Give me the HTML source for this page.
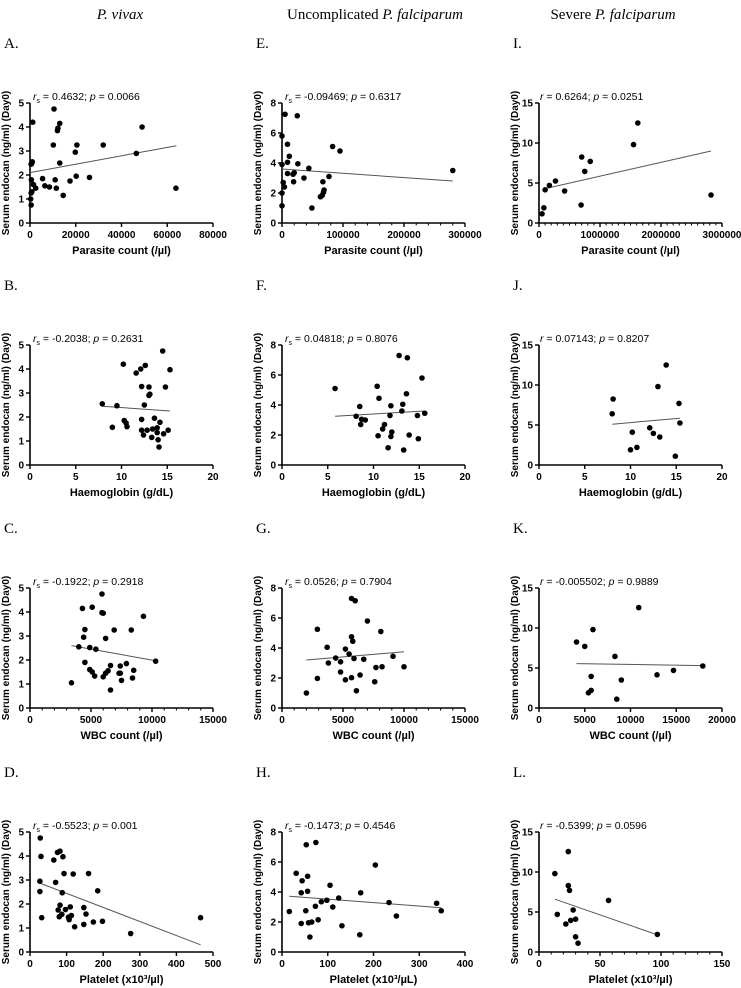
<!DOCTYPE html>
<html><head><meta charset="utf-8">
<style>
body{margin:0;background:#fff;}
svg{display:block;font-family:"Liberation Sans",Arial,sans-serif;}
.hdr{font-family:"Liberation Serif",serif;font-size:15px;}
.lab{font-family:"Liberation Serif",serif;font-size:15px;}
</style></head>
<body>
<svg id="fig" width="741" height="988" viewBox="0 0 741 988">
<text class="hdr" x="120" y="19" text-anchor="middle" font-style="italic">P. vivax</text>
<text class="hdr" x="375" y="19" text-anchor="middle">Uncomplicated <tspan font-style="italic">P. falciparum</tspan></text>
<text class="hdr" x="613" y="19" text-anchor="middle">Severe <tspan font-style="italic">P. falciparum</tspan></text>
</svg>
<script>
// ---- data ----
const A_x=[500,300,500,800,600,800,1000,500,1200,1500,2500,5500,6500,8500,10200,10500,11000,11500,12000,12200,13000,13000,14500,17500,19800,20200,20500,26000,32000,46500,49000,63800];
const A_y=[0.75,1.0,1.25,1.3,1.8,2.5,2.55,2.45,4.2,1.6,1.45,1.85,1.55,1.5,3.25,4.75,1.8,1.45,3.85,3.95,4.15,2.5,1.15,1.75,2.95,1.95,3.25,1.9,3.25,2.9,4.0,1.45];
const A_fit=[0,2.1,64000,3.22];
const E_x=[0,0,0,0,2000,4000,5000,9000,9000,9000,12000,18000,19000,20000,25000,26000,36000,44000,49000,63000,66000,67000,68000,69000,77000,83000,95000,280000];
const E_y=[1.15,2.0,3.9,5.8,2.7,2.4,7.25,4.05,5.25,3.3,4.45,3.25,2.75,3.35,7.15,3.95,3.0,3.65,1.0,1.75,1.85,2.75,2.05,2.2,3.1,5.1,4.8,3.5];
const E_fit=[0,3.6,280000,2.8];
const I_x=[50000,80000,100000,170000,270000,420000,690000,700000,750000,840000,1550000,1620000,2820000];
const I_y=[1.15,1.9,4.15,4.7,5.25,4.0,2.25,8.25,6.45,7.7,9.8,12.5,3.5];
const I_fit=[100000,4.3,2820000,9.0];
const B_x=[7.9,9.0,9.5,10.2,10.3,10.5,10.6,11.6,12.1,12.2,12.2,12.2,12.4,12.5,12.6,12.8,13.0,13.0,13.1,13.3,13.4,13.6,13.9,13.9,14.0,14.1,14.2,14.5,14.6,14.8,15.1,15.3];
const B_y=[2.55,1.57,2.47,4.2,1.85,1.75,1.6,3.83,4.0,3.27,1.9,1.45,1.25,2.5,4.15,1.45,3.25,2.9,2.95,1.15,1.5,1.95,1.55,1.35,1.05,0.75,1.78,4.75,1.3,3.25,1.45,3.97];
const B_fit=[7.9,2.45,15.3,2.25];
const F_x=[5.8,8.1,8.5,8.6,8.7,9.1,10.4,10.5,10.6,11.0,11.2,11.6,11.8,11.9,11.9,12.0,12.8,13.1,13.2,13.3,13.6,13.7,13.9,14.8,14.9,15.3,15.6];
const F_y=[5.1,3.25,3.9,2.7,3.05,3.0,5.25,1.95,4.45,2.4,2.7,1.15,3.3,1.9,3.95,2.2,7.3,3.6,4.05,1.0,4.75,7.15,2.0,3.3,1.75,5.8,3.45];
const F_fit=[5.8,3.25,15.6,3.6];
const J_x=[8.0,8.1,10.0,10.2,10.7,12.1,12.5,13.0,13.2,13.9,14.9,15.3,15.4];
const J_y=[6.4,8.25,1.9,4.1,2.2,4.65,3.95,9.8,3.5,12.5,1.1,7.7,5.25];
const J_fit=[8,5.1,15.4,5.85];
const C_x=[3400,4000,4300,4400,4500,4500,4900,4900,5100,5100,5300,5400,5900,5900,6000,6000,6200,6200,6400,6600,6600,6900,7300,7400,7400,7500,7900,8300,8400,8500,9300,10300];
const C_y=[1.05,2.55,4.15,2.95,3.27,1.9,2.52,1.6,4.2,1.5,1.33,2.45,4.75,3.97,1.3,3.95,2.9,1.45,1.55,0.75,1.77,3.25,1.45,1.45,1.75,1.15,1.85,3.25,1.25,1.57,3.82,1.95];
const C_fit=[3400,2.6,10300,1.97];
const G_x=[2000,2900,2900,3700,3800,4400,4800,4800,5200,5200,5500,5700,5700,5800,5700,5900,6000,6100,6400,6700,7000,7600,7700,8100,8200,9100,10000];
const G_y=[1.0,5.25,1.97,4.05,3.0,3.33,3.08,2.4,1.88,3.93,3.6,4.75,2.02,4.45,7.3,3.3,7.15,1.15,2.2,3.25,5.8,1.75,2.7,5.1,2.75,3.45,2.75];
const G_fit=[2000,3.2,10000,3.75];
const K_x=[4100,5000,5400,5700,5700,5900,8300,8500,9000,10900,12900,14700,17900];
const K_y=[8.25,7.7,1.9,2.2,3.95,9.8,6.45,1.1,3.5,12.55,4.15,4.7,5.25];
const K_fit=[4100,5.55,17900,5.3];
const D_x=[27,27,28,30,32,65,70,75,77,80,82,82,87,88,90,93,97,105,107,110,113,118,122,147,147,153,160,173,185,198,275,466];
const D_y=[2.95,2.52,4.75,3.98,1.43,3.83,2.9,4.15,1.75,1.47,4.2,1.95,1.57,2.47,3.97,3.27,1.77,1.45,1.35,1.88,1.52,3.25,1.05,1.15,1.85,1.58,3.27,1.25,2.55,1.28,0.77,1.43];
const D_fit=[27,2.87,466,0.3];
const H_x=[16,31,42,42,44,52,53,56,56,58,61,65,73,74,79,86,98,105,111,124,131,170,172,204,234,250,338,348];
const H_y=[2.7,5.25,3.95,1.9,4.75,2.75,7.15,5.05,4.05,1.95,1.0,2.0,3.05,7.3,2.15,3.35,3.45,4.45,3.0,3.6,1.75,1.15,3.95,5.8,3.3,2.4,3.25,2.75];
const H_fit=[16,3.72,348,2.95];
const L_x=[13,15,22,24,24,25,26,28,30,30,32,57,97];
const L_y=[9.8,4.7,3.5,12.55,8.3,7.7,3.95,5.25,1.9,4.1,1.1,6.45,2.2];
const L_fit=[13,6.6,97,2.15];
const A_xt=[0,20000,40000,60000,80000], E_xt=[0,100000,200000,300000], I_xt=[0,1000000,2000000,3000000];
const B_xt=[0,5,10,15,20];
const C_xt=[0,5000,10000,15000], K_xt=[0,5000,10000,15000,20000];
const D_xt=[0,100,200,300,400,500], H_xt=[0,100,200,300,400], L_xt=[0,50,100,150];
const yt5=[0,1,2,3,4,5], yt8=[0,2,4,6,8], yt15=[0,5,10,15];

const NS='http://www.w3.org/2000/svg';
const svg=document.getElementById('fig');
function mk(tag,attrs,parent){const e=document.createElementNS(NS,tag);for(const k in attrs)e.setAttribute(k,attrs[k]);(parent||svg).appendChild(e);return e;}

const colX=[30,282,539], rowB=[223,465,708,952], W=183, Hh=120;
const panels=[
 {id:'a',L:'A.',c:0,r:0,x:A_x,y:A_y,f:A_fit,xt:A_xt,yt:yt5,xmin:0,xmax:80000,ymax:5,minor:0,xl:'Parasite count (/µl)',st:'s',ann:' = 0.4632; ',p:'0.0066'},
 {id:'e',L:'E.',c:1,r:0,x:E_x,y:E_y,f:E_fit,xt:E_xt,yt:yt8,xmin:0,xmax:300000,ymax:8,minor:20000,xl:'Parasite count (/µl)',st:'s',ann:' = -0.09469; ',p:'0.6317'},
 {id:'i',L:'I.',c:2,r:0,x:I_x,y:I_y,f:I_fit,xt:I_xt,yt:yt15,xmin:0,xmax:3000000,ymax:15,minor:100000,xl:'Parasite count (/µl)',st:'',ann:' = 0.6264; ',p:'0.0251'},
 {id:'b',L:'B.',c:0,r:1,x:B_x,y:B_y,f:B_fit,xt:B_xt,yt:yt5,xmin:0,xmax:20,ymax:5,minor:0,xl:'Haemoglobin (g/dL)',st:'s',ann:' = -0.2038; ',p:'0.2631'},
 {id:'f',L:'F.',c:1,r:1,x:F_x,y:F_y,f:F_fit,xt:B_xt,yt:yt8,xmin:0,xmax:20,ymax:8,minor:0,xl:'Haemoglobin (g/dL)',st:'s',ann:' = 0.04818; ',p:'0.8076'},
 {id:'j',L:'J.',c:2,r:1,x:J_x,y:J_y,f:J_fit,xt:B_xt,yt:yt15,xmin:0,xmax:20,ymax:15,minor:0,xl:'Haemoglobin (g/dL)',st:'',ann:' = 0.07143; ',p:'0.8207'},
 {id:'c',L:'C.',c:0,r:2,x:C_x,y:C_y,f:C_fit,xt:C_xt,yt:yt5,xmin:0,xmax:15000,ymax:5,minor:1000,xl:'WBC count (/µl)',st:'s',ann:' = -0.1922; ',p:'0.2918'},
 {id:'g',L:'G.',c:1,r:2,x:G_x,y:G_y,f:G_fit,xt:C_xt,yt:yt8,xmin:0,xmax:15000,ymax:8,minor:1000,xl:'WBC count (/µl)',st:'s',ann:' = 0.0526; ',p:'0.7904'},
 {id:'k',L:'K.',c:2,r:2,x:K_x,y:K_y,f:K_fit,xt:K_xt,yt:yt15,xmin:0,xmax:20000,ymax:15,minor:0,xl:'WBC count (/µl)',st:'',ann:' = -0.005502; ',p:'0.9889'},
 {id:'d',L:'D.',c:0,r:3,x:D_x,y:D_y,f:D_fit,xt:D_xt,yt:yt5,xmin:0,xmax:500,ymax:5,minor:0,xl:'Platelet (x10³/µl)',st:'s',ann:' = -0.5523; ',p:'0.001'},
 {id:'h',L:'H.',c:1,r:3,x:H_x,y:H_y,f:H_fit,xt:H_xt,yt:yt8,xmin:0,xmax:400,ymax:8,minor:0,xl:'Platelet (x10³/µL)',st:'s',ann:' = -0.1473; ',p:'0.4546'},
 {id:'l',L:'L.',c:2,r:3,x:L_x,y:L_y,f:L_fit,xt:L_xt,yt:yt15,xmin:0,xmax:150,ymax:15,minor:10,xl:'Platelet (x10³/µl)',st:'',ann:' = -0.5399; ',p:'0.0596'}
];
panels.forEach(P=>{
  const x0=colX[P.c], y0=rowB[P.r];
  const sx=v=>x0+(v-P.xmin)/(P.xmax-P.xmin)*W;
  const sy=v=>y0-v/P.ymax*Hh;
  const g=mk('g',{});
  
  
  const lt=mk('text',{x:x0-26,y:y0-Hh-55,'class':'lab'},g);lt.textContent=P.L;
  
  
  // axes
  const ax=mk('path',{d:`M${x0},${y0-Hh}V${y0}H${x0+W}`,stroke:'#000','stroke-width':1.6,fill:'none'},g);
  
  
  P.yt.forEach(v=>{
    mk('line',{x1:x0-4,x2:x0,y1:sy(v),y2:sy(v),stroke:'#000','stroke-width':1.4},g);
    const t=mk('text',{x:x0-6,y:sy(v)+3.5,'text-anchor':'end','font-size':10,'font-weight':'bold'},g);t.textContent=v;
    
    
  });
  if(P.minor){for(let v=P.xmin;v<=P.xmax+1e-9;v+=P.minor)mk('line',{x1:sx(v),x2:sx(v),y1:y0,y2:y0+2.5,stroke:'#000','stroke-width':1},g);}
  P.xt.forEach(v=>{
    mk('line',{x1:sx(v),x2:sx(v),y1:y0,y2:y0+4,stroke:'#000','stroke-width':1.4},g);
    const t=mk('text',{x:sx(v),y:y0+15,'text-anchor':'middle','font-size':10,'font-weight':'bold'},g);t.textContent=v;
    
    
  });
  const xt=mk('text',{x:x0+W/2,y:y0+31,'text-anchor':'middle','font-size':11,'font-weight':'bold'},g);xt.textContent=P.xl;
  
  
  const yc=y0-Hh/2, yx=x0-21;
  const yt=mk('text',{x:yx,y:yc,'text-anchor':'middle','font-size':10,'font-weight':'bold',transform:`rotate(-90 ${yx} ${yc})`},g);yt.textContent='Serum endocan (ng/ml) (Day0)';
  
  
  const an=mk('text',{x:x0+(P.st?3:1),y:y0-Hh-3,'font-size':10.5},g);
  an.innerHTML=`<tspan font-style="italic">r</tspan>${P.st?'<tspan font-size="7" dy="3">s</tspan><tspan dy="-3">'+P.ann+'</tspan>':P.ann}<tspan font-style="italic">p</tspan> = ${P.p}`;
  
  
  const fl=mk('line',{x1:sx(P.f[0]),y1:sy(P.f[1]),x2:sx(P.f[2]),y2:sy(P.f[3]),stroke:'#555','stroke-width':1},g);
  
  
  P.x.forEach((v,i)=>{
    const c=mk('circle',{cx:sx(v),cy:sy(P.y[i]),r:2.8,fill:'#000'},g);
    
    
  });
});
</script>
</body></html>
